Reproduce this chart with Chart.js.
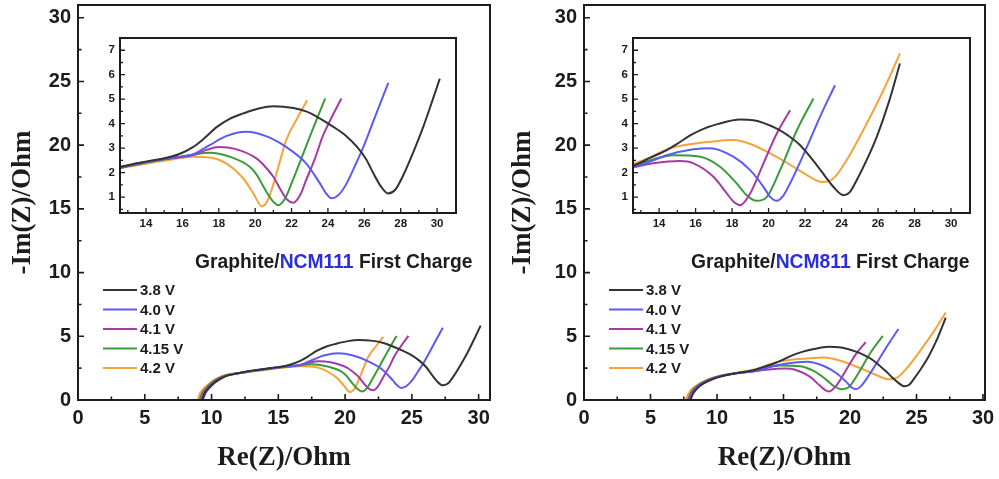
<!DOCTYPE html>
<html>
<head>
<meta charset="utf-8">
<script src="https://cdn.jsdelivr.net/npm/chart.js@4.4.1/dist/chart.umd.min.js"></script>
<style>
  html, body { margin: 0; padding: 0; background: #fff; }
  #wrap { position: relative; width: 999px; height: 479px; overflow: hidden; }
  canvas { position: absolute; }
  .inset { background: #fff; }
</style>
</head>
<body>
<div id="wrap">
  <canvas id="mainL" width="495" height="479" style="left:0;top:0"></canvas>
  <canvas id="mainR" width="499" height="479" style="left:500px;top:0"></canvas>
  <canvas id="insetL" class="inset" width="360" height="205" style="left:100px;top:30px"></canvas>
  <canvas id="insetR" class="inset" width="362" height="205" style="left:613px;top:30px"></canvas>
</div>
<script>
// series labels
const voltages = ["3.8 V", "4.0 V", "4.1 V", "4.15 V", "4.2 V"];
const seriesColors = ["#333333", "#5b5bf2", "#a53ba5", "#3b9b3b", "#f5a43c"];

// tick labels
const mainTicks = [0, 5, 10, 15, 20, 25, 30];
const insetXTicks = [14, 16, 18, 20, 22, 24, 26, 28, 30];
const insetYTicks = [1, 2, 3, 4, 5, 6, 7];

// Graphite/NCM111 first charge  (Re(Z), -Im(Z)) in Ohm
const n111_38_x = [9.3, 9.5, 9.8, 10.2, 10.7, 11.3, 12, 12.6, 13.5, 14.2, 14.95, 15.8, 16.6, 17.2, 17.9, 18.6, 19.35, 20.2, 21.0, 22.1, 22.8, 23.4, 24.3, 25.0, 25.6, 26.1, 26.5, 26.9, 27.3, 27.7, 28.1, 28.7, 29.24, 29.7, 30.15];
const n111_38_y = [0, 0.55, 0.95, 1.35, 1.7, 1.95, 2.1, 2.24, 2.38, 2.48, 2.58, 2.75, 3.05, 3.4, 3.87, 4.2, 4.42, 4.62, 4.71, 4.64, 4.5, 4.28, 3.87, 3.5, 3.05, 2.55, 1.97, 1.45, 1.15, 1.3, 1.83, 2.85, 3.87, 4.85, 5.84];
const n111_40_x = [9.35, 9.55, 9.85, 10.25, 10.75, 11.3, 12, 12.6, 13.5, 14.5, 15.5, 16.6, 17.5, 18.4, 19.5, 20.6, 21.7, 22.8, 23.56, 23.9, 24.2, 24.6, 25.03, 25.5, 25.95, 26.6, 27.32];
const n111_40_y = [0, 0.55, 0.95, 1.35, 1.7, 1.95, 2.1, 2.22, 2.36, 2.5, 2.62, 2.75, 3.12, 3.49, 3.67, 3.49, 3.05, 2.38, 1.56, 1.15, 0.95, 1.1, 1.56, 2.3, 3.05, 4.3, 5.67];
const n111_41_x = [9.2, 9.4, 9.7, 10.1, 10.6, 11.2, 12, 12.6, 13.5, 14.5, 15.5, 16.6, 17.3, 18.0, 18.9, 20.07, 20.6, 21.0, 21.4, 21.75, 22.1, 22.45, 22.8, 23.3, 23.7, 24.2, 24.74];
const n111_41_y = [0, 0.55, 0.95, 1.35, 1.7, 1.95, 2.1, 2.2, 2.35, 2.5, 2.6, 2.72, 2.92, 3.05, 2.97, 2.58, 2.2, 1.83, 1.3, 0.9, 0.77, 1.05, 1.69, 2.6, 3.46, 4.25, 5.03];
const n111_415_x = [9.1, 9.3, 9.6, 10.0, 10.5, 11.1, 11.9, 12.6, 13.5, 14.5, 15.5, 16.5, 17.5, 18.6, 19.7, 20.1, 20.46, 20.9, 21.28, 21.65, 22.0, 22.5, 23.0, 23.45, 23.85];
const n111_415_y = [0, 0.55, 0.95, 1.35, 1.7, 1.95, 2.1, 2.2, 2.33, 2.47, 2.6, 2.72, 2.81, 2.65, 2.24, 1.9, 1.42, 0.9, 0.67, 0.95, 1.56, 2.5, 3.46, 4.3, 5.03];
const n111_42_x = [8.95, 9.15, 9.45, 9.9, 10.4, 11.0, 11.8, 12.6, 13.5, 14.5, 15.5, 16.6, 17.5, 18.4, 19.35, 19.9, 20.36, 20.6, 20.9, 21.3, 21.7, 22.3, 22.86];
const n111_42_y = [0, 0.55, 0.95, 1.35, 1.7, 1.95, 2.1, 2.18, 2.3, 2.43, 2.55, 2.65, 2.62, 2.38, 1.76, 1.15, 0.63, 0.75, 1.29, 2.3, 3.32, 4.2, 4.96];

// Graphite/NCM811 first charge
const n811_38_x = [8.0, 8.2, 8.5, 9.0, 9.7, 10.5, 11.5, 12.68, 13.5, 14.42, 15.0, 15.7, 16.4, 17.2, 18.44, 19.17, 20.45, 21.1, 21.73, 22.64, 23.1, 23.55, 24.1, 24.45, 24.83, 25.4, 25.93, 26.6, 27.2];
const n811_38_y = [0, 0.5, 0.9, 1.3, 1.65, 1.9, 2.1, 2.31, 2.6, 2.92, 3.18, 3.52, 3.78, 3.98, 4.17, 4.14, 3.8, 3.5, 3.12, 2.31, 1.85, 1.42, 1.08, 1.2, 1.69, 2.55, 3.46, 4.9, 6.46];
const n811_40_x = [7.9, 8.1, 8.4, 8.9, 9.6, 10.4, 11.4, 12.68, 13.5, 14.42, 15.88, 16.8, 18.07, 18.99, 19.72, 20.1, 20.45, 20.8, 21.18, 22.1, 22.82, 23.64];
const n811_40_y = [0, 0.5, 0.9, 1.3, 1.65, 1.9, 2.1, 2.24, 2.45, 2.71, 2.95, 3.0, 2.65, 2.1, 1.42, 1.0, 0.85, 1.05, 1.56, 3.05, 4.28, 5.57];
const n811_41_x = [7.85, 8.05, 8.35, 8.85, 9.55, 10.4, 11.4, 12.68, 13.69, 15.15, 15.88, 16.98, 17.71, 18.1, 18.44, 18.99, 19.72, 20.45, 21.18];
const n811_41_y = [0, 0.5, 0.9, 1.3, 1.65, 1.9, 2.1, 2.24, 2.38, 2.47, 2.38, 1.83, 1.15, 0.8, 0.67, 1.15, 2.38, 3.6, 4.55];
const n811_415_x = [7.8, 8.0, 8.3, 8.8, 9.5, 10.3, 11.3, 12.68, 13.69, 14.78, 16.25, 17.34, 18.25, 18.8, 19.35, 19.9, 20.63, 21.55, 22.46];
const n811_415_y = [0, 0.5, 0.9, 1.3, 1.65, 1.9, 2.1, 2.31, 2.55, 2.71, 2.65, 2.24, 1.56, 1.08, 0.85, 1.0, 2.1, 3.73, 5.03];
const n811_42_x = [7.65, 7.85, 8.15, 8.7, 9.4, 10.3, 11.4, 12.68, 13.5, 14.42, 15.33, 16.8, 18.07, 19.17, 20.26, 21.36, 22.1, 22.9, 23.55, 24.28, 25.38, 26.38, 27.2];
const n811_42_y = [0, 0.5, 0.9, 1.3, 1.65, 1.92, 2.12, 2.38, 2.62, 2.95, 3.12, 3.26, 3.33, 3.12, 2.71, 2.24, 1.9, 1.62, 1.76, 2.51, 4.01, 5.5, 6.87];

const panel111 = [[n111_38_x, n111_38_y], [n111_40_x, n111_40_y], [n111_41_x, n111_41_y], [n111_415_x, n111_415_y], [n111_42_x, n111_42_y]];
const panel811 = [[n811_38_x, n811_38_y], [n811_40_x, n811_40_y], [n811_41_x, n811_41_y], [n811_415_x, n811_415_y], [n811_42_x, n811_42_y]];

const annotL = ["Graphite/", "NCM111", " First Charge"];
const annotR = ["Graphite/", "NCM811", " First Charge"];

const SANS = "'Liberation Sans', Arial, sans-serif";
const SERIF = "'Liberation Serif', 'Times New Roman', serif";
const INK = "#1c1c1c";

function makeSets(panel, width) {
  return panel.map((s, i) => ({
    label: voltages[i],
    data: s[0].map((x, j) => ({ x: x, y: s[1][j] })),
    borderColor: seriesColors[i],
    backgroundColor: seriesColors[i],
    borderWidth: width,
    pointRadius: 0,
    cubicInterpolationMode: "monotone",
    fill: false
  }));
}

// no automatic label overhang padding, the layout padding decides
function fixBox(prop, size) {
  return s => {
    s[prop] = size;
    s.paddingTop = 0; s.paddingBottom = 0; s.paddingLeft = 0; s.paddingRight = 0;
  };
}

// frame + inward ticks (left and bottom only)
const framePlugin = {
  id: "frame",
  afterDatasetsDraw(chart, args, o) {
    const { ctx, chartArea: a, scales: { x, y } } = chart;
    ctx.save();
    ctx.strokeStyle = INK;
    ctx.lineWidth = o.lw;
    ctx.strokeRect(a.left, a.top, a.right - a.left, a.bottom - a.top);
    ctx.lineWidth = o.tw;
    ctx.beginPath();
    const tick = (axis, v, len) => {
      if (axis === "x") {
        const p = x.getPixelForValue(v);
        if (p <= a.left + 1 || p >= a.right - 1) return;
        ctx.moveTo(p, a.bottom); ctx.lineTo(p, a.bottom - len);
      } else {
        const p = y.getPixelForValue(v);
        if (p <= a.top + 1 || p >= a.bottom - 1) return;
        ctx.moveTo(a.left, p); ctx.lineTo(a.left + len, p);
      }
    };
    o.xTicks.forEach(v => { tick("x", v, o.major); tick("x", v + o.xMinor, o.minor); tick("x", v - o.xMinor, o.minor); });
    o.yTicks.forEach(v => { tick("y", v, o.major); tick("y", v + o.yMinor, o.minor); tick("y", v - o.yMinor, o.minor); });
    ctx.stroke();
    ctx.restore();
  }
};

// legend + annotation inside the main plot
const notesPlugin = {
  id: "notes",
  afterDraw(chart, args, o) {
    const ctx = chart.ctx;
    ctx.save();
    ctx.font = "bold 15px " + SANS;
    ctx.textBaseline = "middle";
    chart.data.datasets.forEach((d, i) => {
      const yy = o.legY + i * 19.5;
      ctx.strokeStyle = d.borderColor;
      ctx.lineWidth = 2;
      ctx.beginPath();
      ctx.moveTo(o.legX, yy); ctx.lineTo(o.legX + 34, yy);
      ctx.stroke();
      ctx.fillStyle = INK;
      ctx.fillText(d.label, o.legX + 37, yy + 1);
    });
    ctx.font = "bold 19.3px " + SANS;
    let xx = o.annX;
    o.annot.forEach((t, i) => {
      ctx.fillStyle = i === 1 ? "#2c2ce0" : INK;
      ctx.fillText(t, xx, o.annY);
      xx += ctx.measureText(t).width;
    });
    ctx.restore();
  }
};

function mainChart(id, panel, yW, xMax, padR, legX, annX, annot) {
  return new Chart(document.getElementById(id), {
    type: "line",
    data: { datasets: makeSets(panel, 2) },
    options: {
      responsive: false,
      animation: false,
      devicePixelRatio: 1,
      layout: { padding: { top: 5, right: padR, left: 0, bottom: 0 } },
      plugins: {
        legend: { display: false },
        tooltip: { enabled: false },
        frame: { lw: 2, tw: 1.6, major: 6, minor: 3.5, xTicks: mainTicks, yTicks: mainTicks, xMinor: 2.5, yMinor: 2.5 },
        notes: { legX: legX, legY: 290, annX: annX, annY: 263, annot: annot }
      },
      scales: {
        x: {
          type: "linear", min: 0, max: xMax,
          grid: { display: false, drawTicks: false },
          border: { display: false },
          afterFit: fixBox("height", 79),
          afterBuildTicks: s => { s.ticks = mainTicks.map(v => ({ value: v })); },
          ticks: { padding: 6, color: INK, font: { family: SANS, size: 20, weight: "bold" } },
          title: { display: true, text: "Re(Z)/Ohm", color: INK, padding: { top: 0, bottom: 5 },
                   font: { family: SERIF, size: 27, weight: "bold" } }
        },
        y: {
          type: "linear", min: 0, max: 31,
          grid: { display: false, drawTicks: false },
          border: { display: false },
          afterFit: fixBox("width", yW),
          afterBuildTicks: s => { s.ticks = mainTicks.map(v => ({ value: v })); },
          ticks: { padding: 7, color: INK, font: { family: SANS, size: 20, weight: "bold" } },
          title: { display: true, text: "-Im(Z)/Ohm", color: INK, padding: { top: 7, bottom: 0 },
                   font: { family: SERIF, size: 27, weight: "bold" } }
        }
      }
    },
    plugins: [framePlugin, notesPlugin]
  });
}

function insetChart(id, panel, padR) {
  return new Chart(document.getElementById(id), {
    type: "line",
    data: { datasets: makeSets(panel, 2) },
    options: {
      responsive: false,
      animation: false,
      devicePixelRatio: 1,
      layout: { padding: { top: 8, right: padR, left: 0, bottom: 0 } },
      plugins: {
        legend: { display: false },
        tooltip: { enabled: false },
        frame: { lw: 2, tw: 1.3, major: 5, minor: 3, xTicks: insetXTicks, yTicks: insetYTicks, xMinor: 1, yMinor: 0.5 }
      },
      scales: {
        x: {
          type: "linear", min: 12.57, max: 31.04,
          grid: { display: false, drawTicks: false },
          border: { display: false },
          afterFit: fixBox("height", 22),
          afterBuildTicks: s => { s.ticks = insetXTicks.map(v => ({ value: v })); },
          ticks: { padding: 4, color: INK, font: { family: SANS, size: 11.5, weight: "bold" } }
        },
        y: {
          type: "linear", min: 0.35, max: 7.5,
          grid: { display: false, drawTicks: false },
          border: { display: false },
          afterFit: fixBox("width", 20),
          afterBuildTicks: s => { s.ticks = insetYTicks.map(v => ({ value: v })); },
          ticks: { padding: 5, color: INK, font: { family: SANS, size: 11.5, weight: "bold" } }
        }
      }
    },
    plugins: [framePlugin]
  });
}

mainChart("mainL", panel111, 78, 30.85, 5, 103, 195, annotL);
mainChart("mainR", panel811, 84, 30.15, 14, 109, 191, annotR);
insetChart("insetL", panel111, 4);
insetChart("insetR", panel811, 5);
</script>
</body>
</html>
